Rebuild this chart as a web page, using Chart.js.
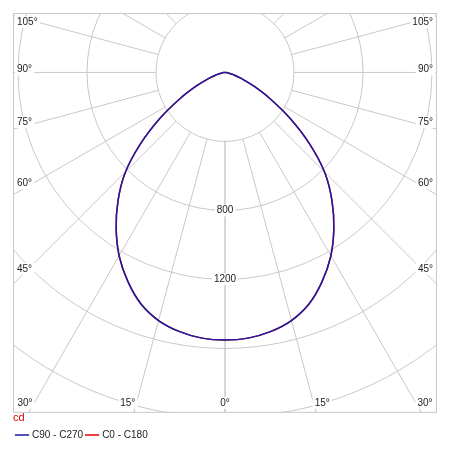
<!DOCTYPE html>
<html><head><meta charset="utf-8">
<script src="https://cdn.jsdelivr.net/npm/chart.js@4"></script>
<style>body{margin:0;background:#fff}</style>
</head><body>
<canvas id="c" width="450" height="450"></canvas>
<script>
// angle from nadir (deg) and luminous intensity (cd)
var angles = [0,5,10,15,20,25,30,35,40,45,50,55,60,65,70,75,80,85,90];
var cdC0 = [1540,1535,1515,1480,1420,1330,1225,1100,965,820,640,460,300,180,100,50,20,5,0];
var cdC90 = [1540,1535,1515,1480,1420,1330,1225,1100,965,820,640,460,300,180,100,50,20,5,0];
var rings = [400,800,1200,1600,2000,2400];
var ringLabels = [800,1200];
var spokeAngles = [0,15,30,45,60,75,90,105,120,135,150,165,180];
var edgeLabels = [0,15,30,45,60,75,90,105];

function toXY(ang, cd) {
  var pts = [];
  // left half then right half, so the curve is closed
  for (var i = ang.length - 1; i >= 0; i--) {
    var a = -ang[i] * Math.PI / 180;
    pts.push({x: cd[i] * Math.sin(a), y: -cd[i] * Math.cos(a)});
  }
  for (var j = 1; j < ang.length; j++) {
    var b = ang[j] * Math.PI / 180;
    pts.push({x: cd[j] * Math.sin(b), y: -cd[j] * Math.cos(b)});
  }
  return pts;
}

var polarGrid = {
  id: 'polarGrid',
  beforeDatasetsDraw: function(chart) {
    var ctx = chart.ctx, a = chart.chartArea;
    var xs = chart.scales.x, ys = chart.scales.y;
    var cx = xs.getPixelForValue(0), cy = ys.getPixelForValue(0);
    var k = xs.getPixelForValue(400) - cx;
    ctx.save();
    ctx.beginPath(); ctx.rect(a.left, a.top, a.right - a.left, a.bottom - a.top); ctx.clip();
    ctx.strokeStyle = '#c8c8c8'; ctx.lineWidth = 1;
    rings.forEach(function(r) {
      ctx.beginPath(); ctx.arc(cx, cy, r / 400 * k, 0, Math.PI * 2); ctx.stroke();
    });
    var r0 = rings[0] / 400 * k;
    spokeAngles.forEach(function(d) {
      [1, -1].forEach(function(s) {
        var t = s * d * Math.PI / 180;
        ctx.beginPath();
        ctx.moveTo(cx + r0 * Math.sin(t), cy + r0 * Math.cos(t));
        ctx.lineTo(cx + 1000 * Math.sin(t), cy + 1000 * Math.cos(t));
        ctx.stroke();
      });
    });
    ctx.restore();
    ctx.save();
    ctx.strokeStyle = '#c8c8c8';
    ctx.strokeRect(a.left + 0.5, a.top + 0.5, a.right - a.left - 1, a.bottom - a.top - 1);
    ctx.font = '10px "Liberation Sans", Arial, sans-serif';
    ctx.fillStyle = '#222'; ctx.textBaseline = 'middle';
    function label(txt, x, y, align) {
      ctx.textAlign = align;
      var w = ctx.measureText(txt).width;
      var lx = align === 'left' ? x : align === 'right' ? x - w : x - w / 2;
      ctx.fillStyle = '#fff'; ctx.fillRect(lx - 2, y - 6, w + 4, 12);
      ctx.fillStyle = '#222'; ctx.fillText(txt, x, y);
    }
    ringLabels.forEach(function(r) { label(String(r), cx, cy + r / 400 * k, 'center'); });
    edgeLabels.forEach(function(d) {
      var t = d * Math.PI / 180;
      var yb = cy + (cx - a.left) / Math.tan(t);
      if (d > 0 && yb < a.bottom - 10) {
        var yy = d > 90 ? a.top + 9 : yb - 3 - (90 - d) * 0.28;
        label(d + '°', a.left + 4, yy, 'left');
        label(d + '°', a.right - 4, yy, 'right');
      } else {
        var dx = (a.bottom - cy) * Math.tan(t);
        var yl = a.bottom - 10;
        if (d === 0) { label('0°', cx, yl, 'center'); return; }
        label(d + '°', Math.max(cx - dx - 6, a.left + 12), yl, 'center');
        label(d + '°', Math.min(cx + dx + 6, a.right - 12), yl, 'center');
      }
    });
    ctx.restore();
  }
};

new Chart(document.getElementById('c'), {
  type: 'scatter',
  data: {datasets: [
    {label: 'C0 - C180', data: toXY(angles, cdC0), showLine: true, borderColor: '#e00000', backgroundColor: '#e00000', borderWidth: 1.5, pointRadius: 0, tension: 0.4, order: 1},
    {label: 'C90 - C270', data: toXY(angles, cdC90), showLine: true, borderColor: '#1a1aa8', backgroundColor: '#1a1aa8', borderWidth: 1.5, pointRadius: 0, tension: 0.4, order: 0}
  ]},
  options: {
    responsive: false, animation: false,
    layout: {padding: {left: 13, right: 13, top: 13, bottom: 0}},
    scales: {
      x: {type: 'linear', min: -1229, max: 1229, display: false},
      y: {type: 'linear', min: -1959, max: 342, display: false}
    },
    plugins: {
      tooltip: {enabled: false},
      legend: {
        position: 'bottom', align: 'start', reverse: true,
        title: {display: true, text: 'cd', color: '#e00000', position: 'start', font: {size: 11}, padding: {top: 0, bottom: 0}},
        labels: {usePointStyle: true, pointStyle: 'line', boxWidth: 22, color: '#222', font: {size: 10}, padding: 4,
          sort: function(a, b) { return a.datasetIndex - b.datasetIndex; }}
      }
    }
  },
  plugins: [polarGrid]
});
</script>
</body></html>
